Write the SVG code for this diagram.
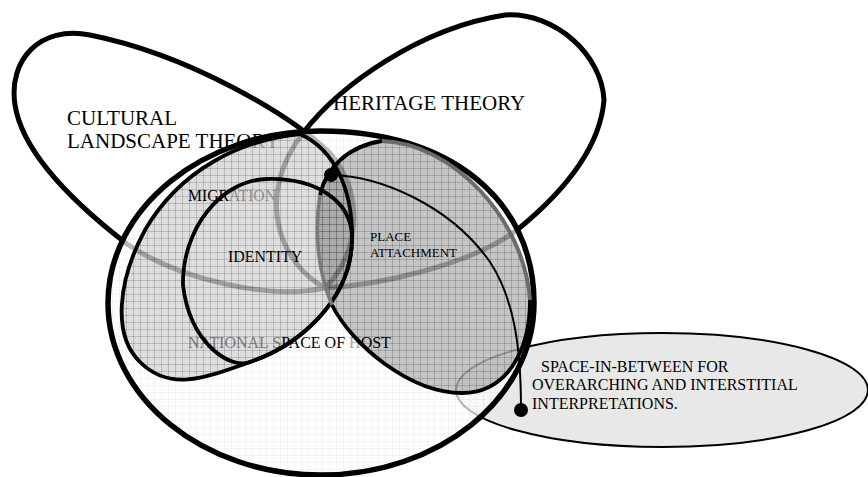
<svg xmlns="http://www.w3.org/2000/svg" width="868" height="477" viewBox="0 0 868 477">
  <style>
    text { font-family: "Liberation Serif", "Times New Roman", serif; fill: #000; }
    .petal { fill: none; stroke: #000; stroke-width: 5; stroke-linejoin: round; }
    .outline { fill: none; stroke: #000; stroke-width: 3.8; stroke-linejoin: round; }
    .tex { fill: url(#grid); }
    .faint { fill: #8c8c8c; }
    .link { fill: none; stroke: #000; stroke-width: 2; marker-start: url(#dot); marker-end: url(#dot); }
  </style>
  <defs>
    <!-- fine graph-paper texture laid over the shaded regions -->
    <pattern id="grid" width="7" height="7" patternUnits="userSpaceOnUse">
      <path d="M0,0.5H7M0.5,0V7" fill="none" stroke="#000" stroke-opacity="0.14"/>
      <path d="M2,2h1v1h-1zM5,5h1v1h-1zM2,5h1v1h-1zM5,2h1v1h-1z" fill="#000" fill-opacity="0.06"/>
    </pattern>
    <marker id="dot" markerUnits="userSpaceOnUse" markerWidth="16" markerHeight="16" refX="8" refY="8" orient="auto">
      <circle cx="8" cy="8" r="7" fill="#000"/>
    </marker>
  </defs>

  <!-- theory petals: both leaves meet at a point inside the national space -->
  <g id="cultural-landscape-theory">
    <path class="petal" d="M325,288 C356,258 368,198 330,153 C290,115 190,55 90,35 C40,25 8,60 15,105 C22,150 70,200 127,244 C180,280 270,300 325,288 Z"/>
    <text x="67" y="125" font-size="21">CULTURAL</text>
    <text x="67" y="148" font-size="21">LANDSCAPE THEORY</text>
  </g>

  <g id="heritage-theory">
    <path class="petal" d="M325,288 C278,262 255,195 303,133 C340,85 420,28 505,15 C555,12 602,55 604,100 C600,150 560,195 517,230 C470,265 380,285 325,288 Z"/>
    <text x="333" y="110" font-size="21">HERITAGE THEORY</text>
  </g>

  <g id="space-in-between">
    <ellipse cx="662" cy="390" rx="206" ry="57" fill="#e8e8e8" stroke="#000" stroke-width="2"/>
    <text x="541" y="372" font-size="16">SPACE-IN-BETWEEN FOR</text>
    <text x="532" y="390" font-size="16">OVERARCHING AND INTERSTITIAL</text>
    <text x="532" y="409" font-size="16">INTERPRETATIONS.</text>
  </g>

  <!-- host nation: translucent wash dims everything drawn beneath it -->
  <g id="national-space">
    <path d="M108,303 C108,208 203.4,131 321,131 C450,131 534,200 534,303 C534,398 438.6,475 321,475 C203.4,475 108,398 108,303 Z" fill="#fff" fill-opacity="0.72"/>
    <path class="tex" opacity="0.3" d="M108,303 C108,208 203.4,131 321,131 C450,131 534,200 534,303 C534,398 438.6,475 321,475 C203.4,475 108,398 108,303 Z"/>
    <path d="M108,303 C108,208 203.4,131 321,131 C450,131 534,200 534,303 C534,398 438.6,475 321,475 C203.4,475 108,398 108,303 Z" fill="none" stroke="#000" stroke-width="5.5"/>
    <text x="188" y="348" font-size="16"><tspan class="faint">NATIONAL S</tspan>PACE OF <tspan fill="#aaa">H</tspan>OST</text>
  </g>

  <g id="migration">
    <path d="M300,134 C335,150 353,190 352,240 C351,300 300,345 250,362 C205,378 170,392 140,362 C112,335 118,280 145,230 C180,170 240,140 300,134 Z" fill="#000" fill-opacity="0.12"/>
    <path class="tex" d="M300,134 C335,150 353,190 352,240 C351,300 300,345 250,362 C205,378 170,392 140,362 C112,335 118,280 145,230 C180,170 240,140 300,134 Z"/>
    <path class="outline" d="M300,134 C335,150 353,190 352,240 C351,300 300,345 250,362 C205,378 170,392 140,362 C112,335 118,280 145,230 C180,170 240,140 300,134 Z"/>
    <text x="188" y="201" font-size="15.7">MIGR<tspan class="faint">ATION</tspan></text>
  </g>

  <g id="identity">
    <path class="outline" d="M352,240 C351,300 300,345 250,362 C232,370 190,345 183,285 C182,230 220,180 267,179 C315,178 353,200 352,240 Z"/>
    <text x="228" y="262" font-size="15.9">IDENTITY</text>
  </g>

  <g id="place-attachment">
    <path d="M382,141 C452,143 524,218 530,300 C530,352 506,393 462,393 C410,393 352,345 332,305 C318,272 314,232 320,195 C326,168 348,146 382,141 Z" fill="#000" fill-opacity="0.22"/>
    <path class="tex" d="M382,141 C452,143 524,218 530,300 C530,352 506,393 462,393 C410,393 352,345 332,305 C318,272 314,232 320,195 C326,168 348,146 382,141 Z"/>
    <path d="M382,141 C452,143 524,218 530,300" fill="none" stroke="#6b6b6b" stroke-width="4"/>
    <path d="M332,305 C318,272 314,232 320,195" fill="none" stroke="#7a7a7a" stroke-width="3.6"/>
    <path class="outline" d="M320,195 C326,168 348,146 382,141"/>
    <path class="outline" d="M530,300 C530,352 506,393 462,393 C410,393 352,345 332,305"/>
    <text x="370" y="241" font-size="13">PLACE</text>
    <text x="370" y="257" font-size="13">ATTACHMENT</text>
  </g>

  <g id="connectors">
    <path class="link" d="M331,175 C380,176 450,205 490,262 C515,300 521,350 521,410"/>
  </g>
</svg>
